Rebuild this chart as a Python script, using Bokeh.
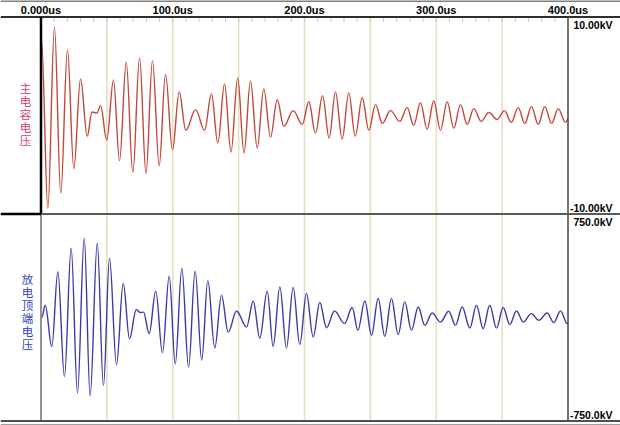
import numpy as np
from bokeh.plotting import figure
from bokeh.models import Range1d, ColumnDataSource
from bokeh.core.properties import value
from bokeh.embed import file_html
from bokeh.resources import INLINE

# ---------------- data ----------------
time_ticks = [0, 100, 200, 300, 400]
time_labels = ["0.000us", "100.0us", "200.0us", "300.0us", "400.0us"]
small_ticks = [10, 20, 30, 40, 50, 60, 70, 80, 90, 100, 110, 120, 130, 140, 150, 160, 170, 180, 190,
               200, 210, 220, 230, 240, 250, 260, 270, 280, 290, 300, 310, 320, 330, 340, 350, 360,
               370, 380, 390]
grid_ticks = [50, 100, 150, 200, 250, 300, 350]

channel_names = ["主电容电压", "放电顶端电压"]
red_scale_labels = ["10.00kV", "-10.00kV"]
blue_scale_labels = ["750.0kV", "-750.0kV"]
red_limit = 10.0      # kV
blue_limit = 750.0    # kV

# main capacitor voltage: successive turning points (us, kV)
red_t = [0.4, 5.2, 10.2, 15.0, 20.1, 24.9, 30.0, 35.1, 38.7, 42.4, 45.2, 49.9, 55.0, 59.6, 64.7,
         69.7, 74.8, 79.7, 84.6, 89.7, 94.5, 99.8, 104.9, 109.9, 117.3, 124.1, 129.4, 134.2, 139.3,
         144.2, 149.3, 154.1, 159.0, 164.1, 169.1, 174.2, 179.3, 184.3, 191.4, 198.3, 203.3, 208.3,
         213.7, 218.7, 223.5, 228.6, 233.6, 238.5, 243.8, 248.8, 253.9, 259.1, 265.3, 272.3, 277.9,
         282.9, 288.0, 293.1, 298.1, 303.2, 308.3, 313.3, 318.4, 323.5, 328.5, 334.1, 339.9, 346.3,
         351.8, 356.9, 362.2, 367.2, 372.3, 377.4, 382.4, 387.5, 392.6, 398.1, 400.0]
red_v = [7.6, -9.4, 9.0, -7.9, 6.7, -5.4, 3.7, -2.1, 0.36, 0.25, 1.0, -2.5, 3.6, -4.6, 5.4,
         -5.8, 5.9, -5.9, 5.6, -5.1, 4.2, -3.5, 2.4, -1.5, 0.6, -1.5, 2.2, -2.8, 3.2,
         -3.7, 3.8, -3.8, 3.5, -3.3, 2.7, -2.2, 1.6, -1.1, 0.5, -0.9, 1.4, -1.8,
         2.0, -2.3, 2.4, -2.4, 2.3, -2.1, 1.8, -1.5, 1.1, -0.8, 0.5, -0.6, 0.8,
         -1.0, 1.3, -1.4, 1.5, -1.5, 1.4, -1.3, 1.1, -0.9, 0.7, -0.6, 0.3, -0.4,
         0.5, -0.7, 0.8, -0.8, 0.9, -0.9, 0.9, -0.8, 0.7, -0.7, -0.35]

# discharge top voltage: successive turning points (us, kV)
blue_t = [0.6, 3.2, 8.2, 12.8, 17.8, 22.9, 27.7, 32.8, 37.3, 42.7, 47.4, 52.0, 57.3, 62.4, 67.2,
          72.3, 75.2, 77.8, 82.1, 87.1, 92.2, 97.3, 101.9, 106.9, 112.0, 117.0, 122.0, 126.6,
          131.9, 137.0, 142.1, 148.4, 156.0, 161.1, 166.1, 171.7, 176.2, 181.3, 186.3, 191.4,
          196.4, 201.5, 206.6, 211.6, 216.7, 222.8, 230.4, 236.2, 240.5, 245.8, 250.9, 255.9,
          260.9, 266.0, 271.1, 276.1, 281.2, 286.3, 291.3, 296.9, 303.2, 309.5, 314.6, 319.7,
          325.5, 330.5, 335.6, 340.6, 345.7, 350.8, 355.8, 360.9, 366.0, 372.1, 377.8, 384.2,
          389.2, 394.3, 399.4, 400.0]
blue_v = [0, 89, -210, 331, -428, 502, -550, 575, -567, 538, -494, 429, -343, 247, -154,
          58, 36, 39, -117, 191, -256, 300, -336, 356, -361, 336, -310, 267,
          -219, 162, -106, 47, -69, 118, -149, 191, -210, 222, -222, 218,
          -195, 174, -142, 109, -74, 47, -44, 72, -93, 120, -130, 138,
          -137, 138, -124, 113, -93, 76, -57, 33, -33, 45, -57, 76,
          -76, 89, -81, 89, -76, 72, -50, 47, -33, 28, -20, 33,
          -37, 47, -44, -43]

# ---------------- layout (pixels) ----------------
W, H = 620, 425
P1_TOP, P1_BOT, P2_BOT = 16.5, 213.5, 420.5
X0_PX, X1_PX = 40.5, 567.5
T_MIN, T_MAX = time_ticks[0], time_ticks[-1]

s = (X1_PX - X0_PX) / (T_MAX - T_MIN)
k_r = (P1_BOT - P1_TOP) / (2 * red_limit)
k_b = (P2_BOT - P1_BOT) / (2 * blue_limit)


def tx(px):
    return T_MIN + (px - X0_PX) / s


def ry(py):
    return red_limit - (py - P1_TOP) / k_r


def by(py):
    return blue_limit - (py - P1_BOT) / k_b


x_range = Range1d(tx(0), tx(W))
red_range = Range1d(ry(H), ry(0))
blue_range = Range1d(by(H), by(0))
xs, xe = x_range.start, x_range.end

p = figure(width=W, height=H, x_range=x_range, y_range=red_range,
           output_backend="svg", toolbar_location=None,
           x_axis_location=None, y_axis_location=None, min_border=0)
p.extra_y_ranges = {"blue": blue_range}
p.grid.visible = False
p.outline_line_color = None
p.background_fill_color = "white"
p.border_fill_color = "white"

# vertical grid lines
p.segment(x0=grid_ticks, y0=[red_limit] * len(grid_ticks), x1=grid_ticks,
          y1=[ry(P2_BOT)] * len(grid_ticks), line_color="#e4e0c3", line_width=1.6)
# small ticks under the header
p.segment(x0=small_ticks, y0=[red_limit] * len(small_ticks), x1=small_ticks,
          y1=[ry(P1_TOP + 5)] * len(small_ticks), line_color="#cacaca", line_width=1)


def bez(t, v):
    t = np.asarray(t, float)
    v = np.asarray(v, float)
    a = 1 - 2 / np.pi
    d = t[1:] - t[:-1]
    return dict(x0=t[:-1], y0=v[:-1], x1=t[1:], y1=v[1:],
                cx0=t[:-1] + a * d, cy0=v[:-1], cx1=t[1:] - a * d, cy1=v[1:])


p.bezier(source=ColumnDataSource(bez(red_t, red_v)), x0="x0", y0="y0", x1="x1", y1="y1",
         cx0="cx0", cy0="cy0", cx1="cx1", cy1="cy1", line_color="#c4473a", line_width=1.4)
p.bezier(source=ColumnDataSource(bez(blue_t, blue_v)), x0="x0", y0="y0", x1="x1", y1="y1",
         cx0="cx0", cy0="cy0", cx1="cx1", cy1="cy1", line_color="#3b3ba6", line_width=1.4,
         y_range_name="blue")

# frame lines
p.segment(x0=[xs], y0=[ry(0.5)], x1=[xe], y1=[ry(0.5)], line_color="black", line_width=1)
p.segment(x0=[xs], y0=[red_limit], x1=[xe], y1=[red_limit], line_color="#2e2e2e", line_width=2)
p.segment(x0=[T_MIN], y0=[-red_limit], x1=[T_MIN], y1=[red_limit], line_color="black", line_width=2.5)
p.segment(x0=[T_MIN], y0=[-blue_limit], x1=[T_MIN], y1=[blue_limit], line_color="#6e6e6e",
          line_width=1.5, y_range_name="blue")
p.segment(x0=[T_MAX], y0=[-red_limit], x1=[T_MAX], y1=[red_limit], line_color="#444444", line_width=1.5)
p.segment(x0=[T_MAX], y0=[-blue_limit], x1=[T_MAX], y1=[blue_limit], line_color="#444444",
          line_width=1.5, y_range_name="blue")
p.segment(x0=[xs], y0=[-red_limit], x1=[T_MIN], y1=[-red_limit], line_color="black", line_width=2.5)
p.segment(x0=[T_MIN], y0=[-red_limit], x1=[xe], y1=[-red_limit], line_color="#5a5a5a", line_width=2)
p.segment(x0=[xs], y0=[-blue_limit], x1=[xe], y1=[-blue_limit], line_color="#505050", line_width=2,
          y_range_name="blue")
p.segment(x0=[xs], y0=[by(424)], x1=[xe], y1=[by(424)], line_color="#a0a0a0", line_width=1,
          y_range_name="blue")

lab_font = value("Liberation Sans")
# time labels in the header
p.text(x=time_ticks, y=[red_limit] * len(time_ticks), text=time_labels, text_align="center",
       text_baseline="bottom", y_offset=-1, text_font=lab_font, text_font_style="bold",
       text_font_size="11px", text_color="black")

# scale labels on the right
RX = 612 - X1_PX
p.text(x=[T_MAX], y=[red_limit], text=[red_scale_labels[0]], text_align="right", text_baseline="top",
       x_offset=RX, y_offset=1.5, text_font=lab_font, text_font_style="bold", text_font_size="10.5px",
       text_color="black")
p.text(x=[T_MAX], y=[-red_limit], text=[red_scale_labels[1]], text_align="right", text_baseline="bottom",
       x_offset=RX, y_offset=0, text_font=lab_font, text_font_style="bold", text_font_size="10.5px",
       text_color="black")
p.text(x=[T_MAX], y=[blue_limit], text=[blue_scale_labels[0]], text_align="right", text_baseline="top",
       x_offset=RX, y_offset=2, text_font=lab_font, text_font_style="bold", text_font_size="10.5px",
       text_color="black", y_range_name="blue")
p.text(x=[T_MAX], y=[-blue_limit], text=[blue_scale_labels[1]], text_align="right", text_baseline="bottom",
       x_offset=RX, y_offset=0, text_font=lab_font, text_font_style="bold", text_font_size="10.5px",
       text_color="black", y_range_name="blue")

# channel names (one character per row)
cjk = value("Noto Sans CJK SC")
STEP = 13.0


def stacked(name, center_off):
    chars = list(name)
    n = len(chars)
    offs = [center_off + (i - (n - 1) / 2) * STEP for i in range(n)]
    return chars, offs


c1, o1 = stacked(channel_names[0], -1.5)
p.text(x=[tx(25)] * len(c1), y=[0] * len(c1), text=c1, y_offset=o1, text_align="center",
       text_baseline="middle", text_font=cjk, text_font_size="11.5px", text_color="#d0446c")
c2, o2 = stacked(channel_names[1], -6)
p.text(x=[tx(27)] * len(c2), y=[0] * len(c2), text=c2, y_offset=o2, text_align="center",
       text_baseline="middle", text_font=cjk, text_font_size="11.5px", text_color="#3444bc",
       y_range_name="blue")

open("out.html", "w").write(file_html(p, INLINE))
